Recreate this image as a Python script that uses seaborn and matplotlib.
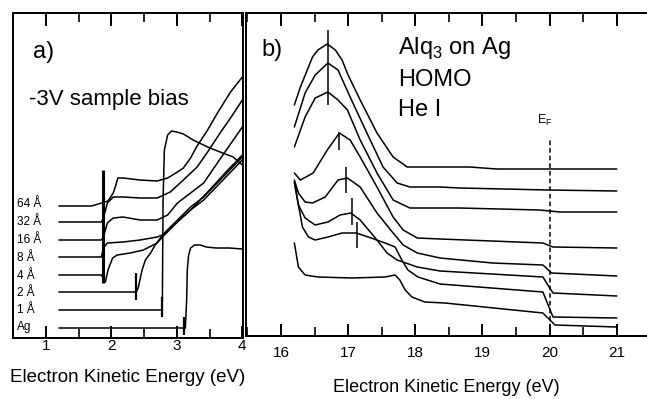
import matplotlib
matplotlib.use("Agg")
import matplotlib.pyplot as plt
import seaborn as sns
import pandas as pd
from matplotlib.ticker import MultipleLocator

# ---------------- Panel a) data : -3V sample bias (energy eV, intensity a.u.) ----------------
a_labels = ["64 Å", "32 Å", "16 Å", "8 Å", "4 Å", "2 Å", "1 Å", "Ag"]
a_label_y = [136, 118, 100, 82, 64, 47, 30, 13]

a64_E = [1.20, 1.70, 1.85, 1.95, 2.03, 2.07, 2.10, 2.18, 2.44, 2.70, 2.86, 3.01, 3.10, 3.21, 3.30, 3.47, 3.62, 3.82, 4.00]
a64_I = [134, 134, 137, 139, 147, 155, 162, 162, 160, 159, 162, 168, 172, 182, 193, 210, 227, 248, 263]
a32_E = [1.20, 1.85, 1.88, 1.94, 2.03, 2.18, 2.44, 2.70, 2.90, 3.10, 3.31, 3.47, 3.66, 3.82, 4.00]
a32_I = [118, 118, 122, 137, 143, 143, 142, 142, 148, 160, 173, 188, 207, 222, 240]
a16_E = [1.20, 1.85, 1.88, 1.94, 2.03, 2.18, 2.44, 2.70, 2.86, 3.01, 3.21, 3.41, 3.66, 3.82, 4.00]
a16_I = [100, 100, 103, 117, 122, 123, 120, 120, 125, 137, 147, 157, 181, 196, 213]
a8_E = [1.20, 1.85, 1.88, 1.94, 2.18, 2.44, 2.70, 2.78, 3.01, 3.21, 3.41, 3.66, 4.00]
a8_I = [83, 83, 92, 97, 98, 100, 103, 105, 120, 133, 143, 160, 183]
a4_E = [1.20, 1.85, 1.91, 1.95, 2.02, 2.09, 2.29, 2.49, 2.70, 2.78, 3.01, 3.21, 3.41, 3.66, 4.00]
a4_I = [65, 65, 58, 70, 82, 85, 87, 90, 97, 103, 118, 130, 140, 157, 180]
a2_E = [1.20, 2.38, 2.41, 2.47, 2.52, 2.60, 2.67, 2.75, 2.95, 3.21, 3.50, 3.75, 4.00]
a2_I = [48, 48, 52, 70, 80, 87, 95, 102, 115, 130, 150, 168, 185]
a1_E = [1.20, 2.77, 2.78, 2.79, 2.81, 2.86, 2.92, 3.00, 3.10, 3.25, 3.47, 3.66, 3.86, 4.00]
a1_I = [30, 30, 40, 140, 190, 205, 209, 208, 206, 200, 193, 188, 183, 175]
aAg_E = [1.20, 3.11, 3.13, 3.15, 3.16, 3.18, 3.21, 3.27, 3.36, 3.45, 3.60, 3.80, 4.00]
aAg_I = [12, 12, 12, 40, 70, 85, 92, 95, 95, 93, 92, 92, 91]

# onset markers in panel a: (energy, low, high, width)
a_mark_E = [1.87, 2.38, 2.77, 3.11]
a_mark_lo = [57, 40, 23, 5]
a_mark_hi = [170, 67, 43, 23]
a_mark_lw = [2.2, 1.6, 1.6, 1.6]

# ---------------- Panel b) data : Alq3 on Ag HOMO, He I ----------------
b1_E = [16.2, 16.29, 16.47, 16.55, 16.69, 16.81, 16.91, 17.0, 17.18, 17.43, 17.67, 17.88, 18.0, 18.81, 19.21, 21.0]
b1_I = [235, 253, 283, 290, 296, 290, 280, 265, 240, 207, 183, 173, 173, 173, 171, 171]
b2_E = [16.2, 16.36, 16.51, 16.70, 16.85, 17.03, 17.28, 17.52, 17.73, 17.92, 18.37, 18.66, 19.97, 21.0]
b2_I = [213, 247, 265, 277, 270, 243, 207, 173, 157, 153, 153, 152, 150, 149]
b3_E = [16.2, 16.36, 16.51, 16.70, 16.85, 16.99, 17.18, 17.43, 17.67, 17.92, 18.66, 19.85, 20.15, 21.0]
b3_I = [193, 223, 242, 248, 240, 230, 200, 167, 140, 132, 132, 130, 128, 128]
b4_E = [16.2, 16.29, 16.48, 16.69, 16.87, 17.03, 17.18, 17.43, 17.67, 17.82, 18.03, 18.37, 19.90, 20.05, 21.0]
b4_I = [167, 160, 167, 190, 207, 200, 183, 153, 123, 110, 102, 101, 97, 93, 92]
b5_E = [16.2, 16.26, 16.36, 16.47, 16.66, 16.85, 16.99, 17.18, 17.43, 17.67, 17.82, 18.03, 18.37, 19.15, 19.90, 20.03, 21.0]
b5_I = [160, 147, 138, 137, 143, 160, 162, 153, 127, 107, 95, 87, 82, 77, 75, 67, 64]
b6_E = [16.2, 16.26, 16.36, 16.51, 16.70, 16.88, 17.04, 17.18, 17.43, 17.58, 17.73, 18.03, 18.37, 19.90, 20.05, 21.0]
b6_I = [158, 135, 122, 115, 118, 125, 127, 120, 100, 87, 80, 73, 69, 63, 47, 44]
b7_E = [16.2, 16.32, 16.41, 16.51, 16.70, 16.91, 17.12, 17.30, 17.55, 17.70, 17.80, 17.89, 18.04, 18.37, 19.90, 20.05, 21.0]
b7_I = [158, 113, 103, 100, 103, 107, 107, 103, 97, 93, 80, 70, 63, 56, 48, 23, 22]
b8_E = [16.2, 16.26, 16.36, 16.55, 17.06, 17.55, 17.70, 17.77, 17.85, 17.95, 18.14, 18.44, 19.90, 20.08, 21.0]
b8_I = [97, 73, 65, 63, 62, 63, 65, 60, 50, 43, 38, 37, 27, 15, 13]

# HOMO peak markers in panel b
b_mark_E = [16.70, 16.87, 16.97, 17.06, 17.13]
b_mark_lo = [235, 190, 147, 115, 92]
b_mark_hi = [310, 208, 173, 142, 118]

E_F = 20.0
E_F_top = 202

# ---------------- build long-form tables ----------------
def table(pairs, names):
    frames = []
    for (e, i), n in zip(pairs, names):
        frames.append(pd.DataFrame({"E": e, "I": i, "curve": n}))
    return pd.concat(frames, ignore_index=True)

df_a = table([(a64_E, a64_I), (a32_E, a32_I), (a16_E, a16_I), (a8_E, a8_I),
              (a4_E, a4_I), (a2_E, a2_I), (a1_E, a1_I), (aAg_E, aAg_I)], a_labels)
b_names = [f"b{k}" for k in range(1, 9)]
df_b = table([(b1_E, b1_I), (b2_E, b2_I), (b3_E, b3_I), (b4_E, b4_I),
              (b5_E, b5_I), (b6_E, b6_I), (b7_E, b7_I), (b8_E, b8_I)], b_names)

sns.set_theme(style="ticks")
plt.rcParams['font.family'] = ['Liberation Sans', 'DejaVu Sans']
plt.rcParams['mathtext.fontset'] = 'custom'
plt.rcParams['mathtext.rm'] = 'Liberation Sans'
plt.rcParams['text.color'] = 'black'
plt.rcParams['axes.labelcolor'] = 'black'

fig = plt.figure(figsize=(6.47, 3.99), dpi=100)
axa = fig.add_axes([13 / 647, 61 / 399, 230 / 647, 325 / 399])
axb = fig.add_axes([246 / 647, 63 / 399, 401 / 647, 323 / 399])


def style_ticks(ax, pad):
    ax.xaxis.set_minor_locator(MultipleLocator(0.5))
    ax.set_yticks([])
    ax.tick_params(axis="x", which="major", direction="in", top=True, bottom=True,
                   length=9, width=1.4, labelsize=11, pad=pad, color="black",
                   labelcolor="black")
    ax.tick_params(axis="x", which="minor", direction="in", top=True, bottom=True,
                   length=6.5, width=1.2, color="black")
    ax.set_ylabel("")
    for s in ax.spines.values():
        s.set_linewidth(1.4)
        s.set_color("black")


# ---- panel a ----
sns.lineplot(data=df_a, x="E", y="I", units="curve", estimator=None, sort=False,
             color="black", lw=1.1, ax=axa, legend=False)
for e, lo, hi, w in zip(a_mark_E, a_mark_lo, a_mark_hi, a_mark_lw):
    axa.vlines(e, lo, hi, color="black", lw=w)
for lab, y in zip(a_labels, a_label_y):
    axa.text(0.565, y, lab, fontsize=8.5, ha="left", va="center")
axa.text(0.96, 288, "a)", fontsize=17, ha="center", va="center")
axa.text(0.75, 240, "-3V sample bias", fontsize=16, ha="left", va="center")
axa.set_xlim(0.50, 4.01)
axa.set_ylim(2, 327)
axa.set_xticks([1, 2, 3, 4])
style_ticks(axa, 1)
axa.set_xlabel("Electron Kinetic Energy (eV)", fontsize=13.5)
axa.xaxis.set_label_coords(0.5, -0.123)
axa.xaxis.label.set_va("center")

# ---- panel b ----
sns.lineplot(data=df_b, x="E", y="I", units="curve", estimator=None, sort=False,
             color="black", lw=1.1, ax=axb, legend=False)
for e, lo, hi in zip(b_mark_E, b_mark_lo, b_mark_hi):
    axb.vlines(e, lo, hi, color="black", lw=1.1)
axb.vlines(E_F, 4, E_F_top, color="black", lw=1.1, linestyles=(0, (3, 2)))
axb.text(E_F - 0.07, 220, r"E$_\mathregular{F}$", fontsize=9, ha="center", va="center")
axb.text(15.87, 290, "b)", fontsize=17, ha="center", va="center")
axb.text(17.74, 292, r"Alq$_\mathregular{3}$ on Ag", fontsize=17, ha="left", va="center")
axb.text(17.74, 260, "HOMO", fontsize=17, ha="left", va="center")
axb.text(17.74, 230, "He I", fontsize=17, ha="left", va="center")
axb.set_xlim(15.48, 21.45)
axb.set_ylim(4, 327)
axb.set_xticks([16, 17, 18, 19, 20, 21])
style_ticks(axb, 7)
axb.spines["right"].set_visible(False)
axb.set_xlabel("Electron Kinetic Energy (eV)", fontsize=13)
axb.xaxis.set_label_coords(0.5, -0.158)
axb.xaxis.label.set_va("center")

fig.savefig("out.png", dpi=100, facecolor="white")
